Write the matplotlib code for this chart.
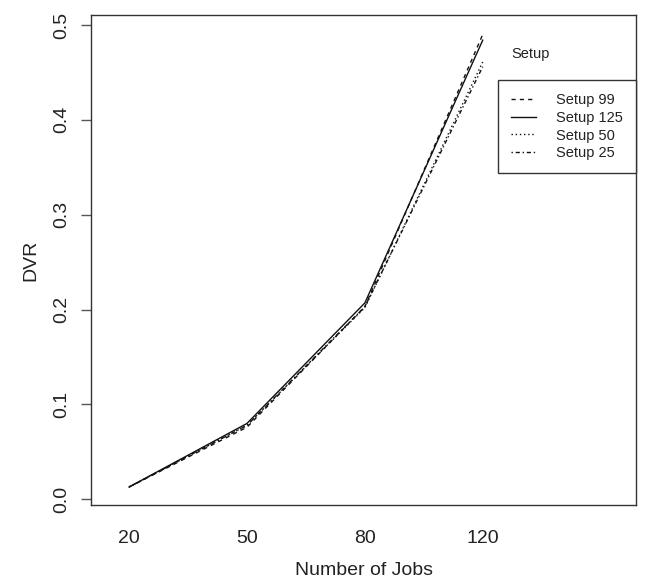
import matplotlib.pyplot as plt

plt.rcParams['font.family'] = ['Liberation Sans', 'DejaVu Sans']

jobs = ['20', '50', '80', '120']
setup_99 = [0.013, 0.076, 0.203, 0.490]
setup_125 = [0.013, 0.080, 0.207, 0.484]
setup_50 = [0.013, 0.078, 0.202, 0.461]
setup_25 = [0.013, 0.078, 0.203, 0.456]
series = [('Setup 99', setup_99, (0, (3, 3))),
          ('Setup 125', setup_125, '-'),
          ('Setup 50', setup_50, (0, (1, 2))),
          ('Setup 25', setup_25, (0, (1, 2, 3, 2)))]

fig = plt.figure(figsize=(6.46, 5.86), dpi=100)
ax = fig.add_axes([0.1409, 0.1382, 0.8436, 0.8362])

pos = list(range(1, len(jobs) + 1))
for name, vals, ls in series:
    ax.plot(pos, vals, color='#111111', linestyle=ls, linewidth=1.0, label=name)

ax.set_xlim(0.677, 5.30)
ax.set_ylim(-0.006, 0.5105)
ax.set_xticks(pos)
ax.set_xticklabels(jobs)
ax.set_yticks([0.0, 0.1, 0.2, 0.3, 0.4, 0.5])
ax.set_yticklabels(['0.0', '0.1', '0.2', '0.3', '0.4', '0.5'], rotation=90, va='center')
ax.tick_params(axis='x', length=0, pad=18, labelsize=14, colors='#222222')
ax.tick_params(axis='y', length=7, width=1, pad=8, labelsize=14, color='#555555', labelcolor='#222222')
for s in ax.spines.values():
    s.set_color('#333333')
    s.set_linewidth(1.0)

ax.set_xlabel('Number of Jobs', fontsize=14, labelpad=11, color='#222222')
ax.set_ylabel('DVR', fontsize=14, labelpad=10, color='#222222')

ax.text(0.771, 0.92, 'Setup', transform=ax.transAxes, fontsize=10.5, ha='left', va='center', color='#222222')
leg = ax.legend(loc='upper right', bbox_to_anchor=(1.0, 0.867), borderaxespad=0,
                fancybox=False, edgecolor='#333333', fontsize=10.5, handlelength=1.7,
                handletextpad=1.4, labelspacing=0.25, borderpad=0.9, framealpha=1)
leg.get_frame().set_linewidth(1.0)
for t in leg.get_texts():
    t.set_color('#222222')

fig.savefig('out.png', dpi=100)
